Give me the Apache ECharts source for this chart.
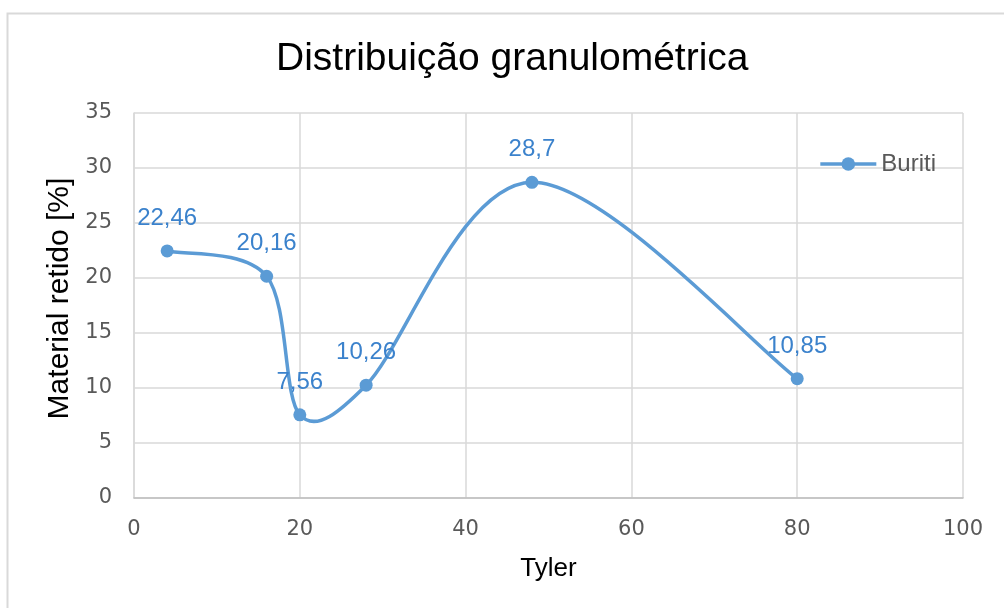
<!DOCTYPE html>
<html>
<head>
<meta charset="utf-8">
<script src="https://cdn.jsdelivr.net/npm/echarts@6/dist/echarts.min.js"></script>
<style>
  html, body { margin: 0; padding: 0; background: #fff; }
  #chart { width: 1004px; height: 608px; }
</style>
</head>
<body>
<div id="chart"></div>
<script>
// Sieve sizes (Tyler mesh) and percentage of material retained
const tylerMesh = [4, 16, 20, 28, 48, 80];
const retained = [22.46, 20.16, 7.56, 10.26, 28.7, 10.85];
const seriesName = 'Buriti';
const titleText = 'Distribuição granulométrica';
const xAxisName = 'Tyler';
const yAxisName = 'Material retido [%]';

const fontFamily = '"Liberation Sans", Arial, sans-serif';
const tickFont = '"DejaVu Sans", "Liberation Sans", sans-serif';
const lineColor = '#5b9bd5';
const labelColor = '#3b82cc';
const tickColor = '#595959';
const gridColor = '#d9d9d9';

// Bezier control points for a spreadsheet-style smoothed line:
// tangent at each point follows (next - prev) / 6, limited to half the segment length.
function segmentControls(p0, p1, p2, p3) {
  const dist = (a, b) => Math.hypot(b[0] - a[0], b[1] - a[1]);
  const d12 = dist(p1, p2);
  const d02 = dist(p0, p2);
  const d13 = dist(p1, p3);
  let f1 = 1 / 6, f2 = 1 / 6;
  if (d02 / 6 > d12 / 2 && d02 > 0) f1 = d12 / 2 / d02;
  if (d13 / 6 > d12 / 2 && d13 > 0) f2 = d12 / 2 / d13;
  return [
    [p1[0] + (p2[0] - p0[0]) * f1, p1[1] + (p2[1] - p0[1]) * f1],
    [p2[0] - (p3[0] - p1[0]) * f2, p2[1] - (p3[1] - p1[1]) * f2]
  ];
}

function renderCurve(params, api) {
  const i = params.dataIndex;
  const n = tylerMesh.length;
  if (i >= n - 1) return { type: 'group', children: [] };
  const pt = k => api.coord([tylerMesh[k], retained[k]]);
  const p1 = pt(i);
  const p2 = pt(i + 1);
  const p0 = i > 0 ? pt(i - 1) : p1;
  const p3 = i + 2 < n ? pt(i + 2) : p2;
  const [c1, c2] = segmentControls(p0, p1, p2, p3);
  return {
    type: 'bezierCurve',
    shape: {
      x1: p1[0], y1: p1[1], x2: p2[0], y2: p2[1],
      cpx1: c1[0], cpy1: c1[1], cpx2: c2[0], cpy2: c2[1]
    },
    style: { stroke: lineColor, lineWidth: 3.5, fill: 'none', lineCap: 'round' },
    silent: true
  };
}

const chart = echarts.init(document.getElementById('chart'), null, { renderer: 'canvas' });

chart.setOption({
  animation: false,
  backgroundColor: '#ffffff',
  textStyle: { fontFamily: fontFamily },
  title: {
    text: titleText,
    left: 271,
    top: 35,
    textStyle: { fontFamily: fontFamily, fontSize: 39, fontWeight: 'normal', color: '#000000' }
  },
  legend: {
    right: 63,
    top: 147,
    itemWidth: 56,
    itemHeight: 17,
    textStyle: { fontFamily: fontFamily, fontSize: 24, color: tickColor, padding: [0, 0, 0, 0] },
    lineStyle: { color: lineColor, width: 3.5, opacity: 1 },
    data: [seriesName]
  },
  graphic: [{
    type: 'rect',
    silent: true,
    shape: { x: 7.5, y: 13.5, width: 1100, height: 700 },
    style: { fill: 'none', stroke: '#d9d9d9', lineWidth: 2 },
    z: -1
  }],
  grid: { left: 134, right: 41, top: 113, bottom: 110, containLabel: false },
  xAxis: {
    type: 'value',
    min: 0,
    max: 100,
    interval: 20,
    name: xAxisName,
    nameLocation: 'middle',
    nameGap: 58,
    nameTextStyle: { fontFamily: fontFamily, fontSize: 26, color: '#000000' },
    axisLine: { show: true, lineStyle: { color: '#bfbfbf', width: 1.5 } },
    axisTick: { show: false },
    axisLabel: { margin: 21, fontFamily: tickFont, fontSize: 21, color: tickColor },
    splitLine: { show: true, lineStyle: { color: gridColor, width: 1.5 } }
  },
  yAxis: {
    type: 'value',
    min: 0,
    max: 35,
    interval: 5,
    name: yAxisName,
    nameLocation: 'middle',
    nameGap: 57,
    nameTextStyle: { fontFamily: fontFamily, fontSize: 30, color: '#000000', padding: [0, 0, 0, 14] },
    axisLine: { show: true, lineStyle: { color: gridColor, width: 1.5 } },
    axisTick: { show: false },
    axisLabel: { margin: 22, fontFamily: tickFont, fontSize: 21, color: tickColor },
    splitLine: { show: true, lineStyle: { color: gridColor, width: 1.5 } }
  },
  series: [
    {
      name: 'curve',
      type: 'custom',
      renderItem: renderCurve,
      data: tylerMesh.map((t, i) => [t, retained[i]]),
      encode: { x: 0, y: 1 },
      z: 1,
      silent: true
    },
    {
      name: seriesName,
      type: 'line',
      data: tylerMesh.map((t, i) => [t, retained[i]]),
      symbol: 'circle',
      symbolSize: 13,
      lineStyle: { color: lineColor, width: 3.5, opacity: 0 },
      itemStyle: { color: lineColor },
      z: 3,
      label: {
        show: true,
        position: 'top',
        distance: 14,
        fontFamily: fontFamily,
        fontSize: 24,
        color: labelColor,
        formatter: p => String(p.value[1]).replace('.', ',')
      }
    }
  ]
});
</script>
</body>
</html>
